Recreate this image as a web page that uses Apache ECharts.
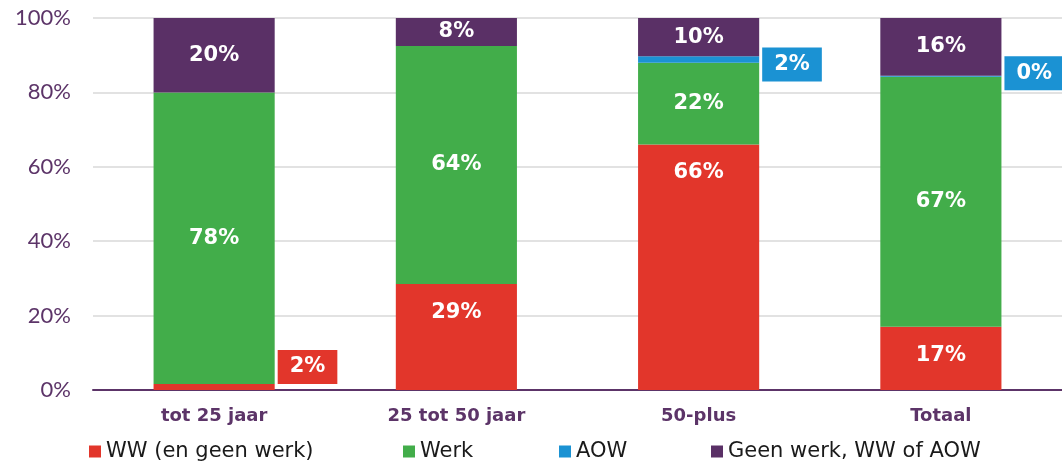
<!DOCTYPE html>
<html>
<head>
<meta charset="utf-8">
<script src="https://cdn.jsdelivr.net/npm/echarts@6/dist/echarts.min.js"></script>
<style>html,body{margin:0;padding:0;background:#fff}#c{width:1062px;height:464px}</style>
</head>
<body>
<div id="c"></div>
<script>
const categories = ['tot 25 jaar', '25 tot 50 jaar', '50-plus', 'Totaal'];
const seriesNames = ['WW (en geen werk)', 'Werk', 'AOW', 'Geen werk, WW of AOW'];
const wwValues = [1.6, 28.5, 66, 17];
const werkValues = [78.4, 64, 22, 67.2];
const aowValues = [0, 0, 1.7, 0.3];
const geenValues = [20, 7.5, 10.3, 15.5];
const yTicks = [0, 20, 40, 60, 80, 100];

const colors = ['#e2362b', '#42ad4a', '#1b92d3', '#5a3066'];
const purple = '#5c3468';
const fmt = p => Math.round(p.value) + '%';

const labelFont = { color: '#fff', fontFamily: 'DejaVu Sans', fontWeight: 'bold', fontSize: 21, formatter: fmt };
const insideLabel = Object.assign({ show: true, position: 'inside' }, labelFont);
const topLabel = Object.assign({ show: true, position: 'insideTop', distance: 18 }, labelFont);
function outsideLabel(color, dy) {
  return Object.assign({
    show: true, position: 'right', distance: 3, offset: [0, dy],
    backgroundColor: color, padding: [6, 12], lineHeight: 22
  }, labelFont);
}

const wwData = wwValues.map((v, i) => i === 0 ? { value: v, label: outsideLabel(colors[0], -20) } : v);
const aowData = aowValues.map((v, i) => {
  if (i === 2) return { value: v, label: outsideLabel(colors[2], 5) };
  if (i === 3) return { value: v, label: outsideLabel(colors[2], -3) };
  return v;
});

const legendLefts = [89, 403, 559, 711];
const chart = echarts.init(document.getElementById('c'));
chart.setOption({
  animation: false,
  color: colors,
  grid: { left: 93, right: 0, top: 18, bottom: 74, containLabel: false },
  legend: seriesNames.map((n, i) => ({
    data: [n], left: legendLefts[i], top: 441, padding: 0, itemWidth: 12, itemHeight: 12, itemGap: 0,
    icon: 'rect', textStyle: { fontFamily: 'DejaVu Sans', fontSize: 21, color: '#1a1a1a', padding: [0, 0, 0, 0] }
  })),
  xAxis: {
    type: 'category', data: categories,
    axisLine: { lineStyle: { color: purple, width: 2 } },
    axisTick: { show: false },
    axisLabel: { color: purple, fontFamily: 'DejaVu Sans', fontWeight: 'bold', fontSize: 18, margin: 17 }
  },
  yAxis: {
    type: 'value', min: yTicks[0], max: yTicks[yTicks.length - 1], interval: 20,
    axisLine: { show: false }, axisTick: { show: false },
    splitLine: { lineStyle: { color: '#d9d9d9', width: 1.5 } },
    axisLabel: { color: purple, fontFamily: 'Lato', fontSize: 22, margin: 22, formatter: '{value}%' }
  },
  series: [
    { name: seriesNames[0], type: 'bar', stack: 's', barWidth: '50%', data: wwData, label: topLabel },
    { name: seriesNames[1], type: 'bar', stack: 's', data: werkValues, label: insideLabel },
    { name: seriesNames[2], type: 'bar', stack: 's', data: aowData, label: { show: false } },
    { name: seriesNames[3], type: 'bar', stack: 's', data: geenValues, label: insideLabel }
  ]
});
</script>
</body>
</html>
